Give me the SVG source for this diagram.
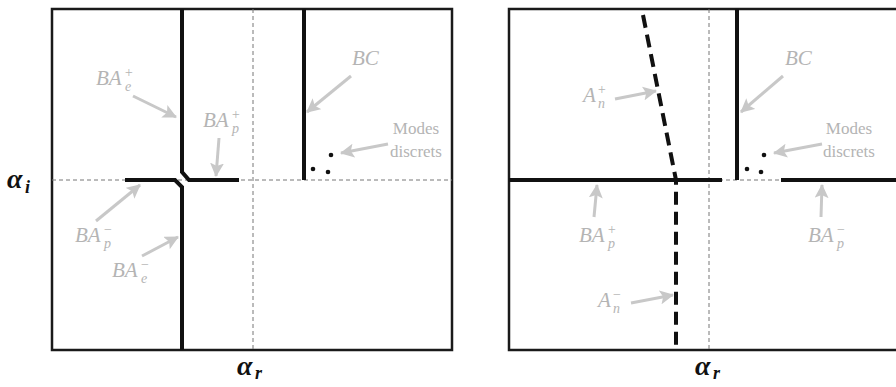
<svg xmlns="http://www.w3.org/2000/svg" width="896" height="387" viewBox="0 0 896 387">
<style>
.frame{fill:none;stroke:#1a1a1a;stroke-width:2.5}
.grid{fill:none;stroke:#777;stroke-width:1;stroke-dasharray:4 3}
.cut{fill:none;stroke:#111;stroke-width:4}
.dcut{fill:none;stroke:#111;stroke-width:4;stroke-dasharray:13 7}
.arr{fill:none;stroke:#c8c8c8;stroke-width:3;marker-end:url(#ah)}
.lab{font-style:italic;fill:#b4b4b4;font-size:21px}
.sm{font-style:italic;fill:#b4b4b4;font-size:14px}
.txt{fill:#b4b4b4;font-size:17px;text-anchor:middle}
.ax{font-style:italic;font-weight:bold;fill:#111;font-size:28px}
.axs{font-style:italic;font-weight:bold;fill:#111;font-size:18px}
.dot{fill:#111}
</style>
<defs>
<marker id="ah" markerUnits="userSpaceOnUse" markerWidth="16" markerHeight="14" refX="13" refY="7" orient="auto">
<path d="M0,0 L14,7 L0,14 L3,7 Z" fill="#c8c8c8"/>
</marker>
</defs>

<g id="left-panel">
<rect class="frame" x="52" y="9" width="400" height="341"/>
<path class="grid" d="M52,180 H452 M253,9 V350"/>
</g>
<g id="left-curves">
<path id="BAe-plus-curve" class="cut" d="M182,9 V172 L189,180 H239"/>
<path id="BAe-minus-curve" class="cut" d="M125,180 H175 L182,187 V350"/>
<path id="BC-left" class="cut" d="M304,9 V180"/>
<circle class="dot" cx="313" cy="169" r="2.3"/>
<circle class="dot" cx="328" cy="172" r="2.3"/>
<circle class="dot" cx="331" cy="155" r="2.3"/>
</g>

<g id="right-panel">
<rect class="frame" x="509" y="9" width="420" height="341"/>
<path class="grid" d="M509,180 H896 M709,9 V350"/>
</g>
<g id="right-curves">
<path class="cut" d="M509,180 H722 M781,180 H900"/>
<path id="BC-right" class="cut" d="M737,9 V180"/>
<path id="An-curve" class="dcut" d="M643,15 L674,170 L676,180 V350"/>
<circle class="dot" cx="747" cy="169" r="2.3"/>
<circle class="dot" cx="761" cy="172" r="2.3"/>
<circle class="dot" cx="764" cy="155" r="2.3"/>
</g>

<g id="connectors">
<path class="arr" d="M133,96 L176,117"/>
<path class="arr" d="M219,138 L216,176"/>
<path class="arr" d="M351,76 L307,112"/>
<path class="arr" d="M388,144 L341,153"/>
<path class="arr" d="M96,221 L140,185"/>
<path class="arr" d="M142,256 L178,237"/>
<path class="arr" d="M615,99 L656,91"/>
<path class="arr" d="M783,76 L741,112"/>
<path class="arr" d="M822,144 L774,153"/>
<path class="arr" d="M594,217 L597,185"/>
<path class="arr" d="M821,217 L822,185"/>
<path class="arr" d="M631,303 L673,295"/>
</g>

<g id="labels-left" font-family="Liberation Serif, serif">
<text class="lab" x="96" y="85">BA</text><text class="sm" x="124" y="77">+</text><text class="sm" x="125" y="91">e</text>
<text class="lab" x="203" y="127">BA</text><text class="sm" x="231" y="119">+</text><text class="sm" x="232" y="133">p</text>
<text class="lab" x="352" y="65">BC</text>
<text class="txt" x="416" y="134">Modes</text><text class="txt" x="416" y="157">discrets</text>
<text class="lab" x="75" y="242">BA</text><text class="sm" x="103" y="234">−</text><text class="sm" x="104" y="248">p</text>
<text class="lab" x="112" y="277">BA</text><text class="sm" x="140" y="269">−</text><text class="sm" x="141" y="283">e</text>
<text class="ax" x="7" y="188">α</text><text class="axs" x="25" y="193">i</text>
<text class="ax" x="237" y="375">α</text><text class="axs" x="255" y="379">r</text>
</g>

<g id="labels-right" font-family="Liberation Serif, serif">
<text class="lab" x="583" y="102">A</text><text class="sm" x="597" y="94">+</text><text class="sm" x="598" y="108">n</text>
<text class="lab" x="785" y="65">BC</text>
<text class="txt" x="849" y="134">Modes</text><text class="txt" x="849" y="157">discrets</text>
<text class="lab" x="579" y="242">BA</text><text class="sm" x="607" y="234">+</text><text class="sm" x="608" y="248">p</text>
<text class="lab" x="808" y="242">BA</text><text class="sm" x="836" y="234">−</text><text class="sm" x="837" y="248">p</text>
<text class="lab" x="598" y="307">A</text><text class="sm" x="612" y="299">−</text><text class="sm" x="613" y="313">n</text>
<text class="ax" x="695" y="375">α</text><text class="axs" x="713" y="379">r</text>
</g>
</svg>
